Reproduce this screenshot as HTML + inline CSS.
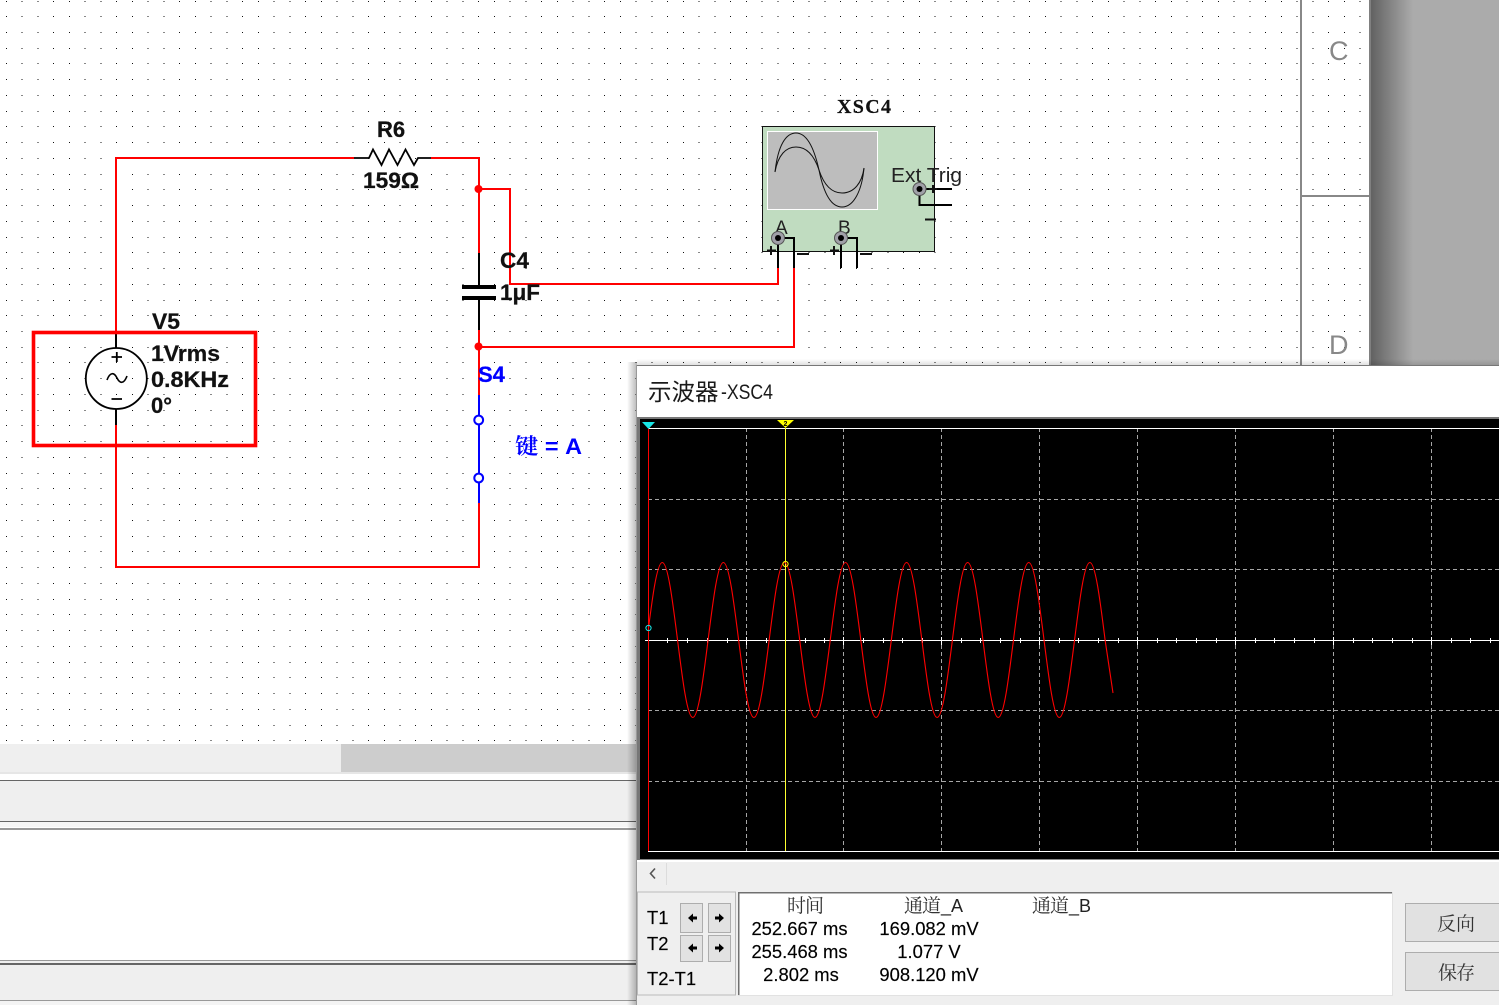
<!DOCTYPE html>
<html>
<head>
<meta charset="utf-8">
<style>
html,body{margin:0;padding:0;background:#fff;width:1499px;height:1005px;overflow:hidden}
svg{display:block;position:absolute;left:0;top:0}
.b{font-family:"Liberation Sans","Noto Sans CJK SC",sans-serif;font-weight:bold;font-size:22px;fill:#111;stroke:#111;stroke-width:.25}
.n{font-family:"Liberation Sans","Noto Sans CJK SC",sans-serif;font-size:18.4px;fill:#000;stroke:#000;stroke-width:.15}
.c{font-family:"Liberation Serif","Noto Serif CJK SC",serif;font-size:19px;fill:#333}
</style>
</head>
<body>
<svg width="1499" height="1005" viewBox="0 0 1499 1005" xmlns="http://www.w3.org/2000/svg">
<defs>
<linearGradient id="gr" x1="0" x2="1" y1="0" y2="0"><stop offset="0" stop-color="#626262"/><stop offset="1" stop-color="#ababab"/></linearGradient>
<linearGradient id="sl" x1="0" x2="1" y1="0" y2="0"><stop offset="0" stop-color="#000" stop-opacity="0"/><stop offset="1" stop-color="#000" stop-opacity=".28"/></linearGradient>
<linearGradient id="st" x1="0" x2="0" y1="0" y2="1"><stop offset="0" stop-color="#000" stop-opacity="0"/><stop offset="1" stop-color="#000" stop-opacity=".12"/></linearGradient>
<clipPath id="scope"><rect x="648" y="420" width="851" height="440"/></clipPath>
</defs>

<!-- canvas -->
<rect width="1499" height="1005" fill="#fff"/>
<path fill="none" stroke="#111" stroke-width="1" stroke-dasharray="1 14.74" shape-rendering="crispEdges" d="M6 1.5H1368M6 16.5H1368M6 32.5H1368M6 48.5H1368M6 63.5H1368M6 79.5H1368M6 95.5H1368M6 111.5H1368M6 126.5H1368M6 142.5H1368M6 158.5H1368M6 174.5H1368M6 189.5H1368M6 205.5H1368M6 221.5H1368M6 237.5H1368M6 252.5H1368M6 268.5H1368M6 284.5H1368M6 300.5H1368M6 315.5H1368M6 331.5H1368M6 347.5H1368M6 362.5H1368M6 378.5H636M6 394.5H636M6 410.5H636M6 425.5H636M6 441.5H636M6 457.5H636M6 473.5H636M6 488.5H636M6 504.5H636M6 520.5H636M6 536.5H636M6 551.5H636M6 567.5H636M6 583.5H636M6 599.5H636M6 614.5H636M6 630.5H636M6 646.5H636M6 662.5H636M6 677.5H636M6 693.5H636M6 709.5H636M6 725.5H636M6 740.5H636"/>

<!-- right margin -->
<rect x="1300" y="0" width="2" height="366" fill="#888"/>
<rect x="1301" y="195" width="70" height="2" fill="#888"/>
<text x="1329" y="60" font-family="Liberation Sans,sans-serif" font-size="27" fill="#888">C</text>
<text x="1329" y="354" font-family="Liberation Sans,sans-serif" font-size="27" fill="#888">D</text>
<rect x="1369" y="0" width="2" height="366" fill="#808080"/>
<rect x="1371" y="0" width="42" height="365" fill="url(#gr)"/>
<rect x="1413" y="0" width="86" height="365" fill="#ababab"/>

<!-- bottom panels -->
<rect x="0" y="744" width="637" height="28" fill="#efefef"/>
<rect x="341" y="744" width="296" height="28" fill="#cdcdcd"/>
<rect x="0" y="772" width="637" height="2" fill="#e6e6e6"/>
<rect x="0" y="780" width="637" height="1" fill="#666"/>
<rect x="0" y="781" width="637" height="40" fill="#efefef"/>
<rect x="0" y="821" width="637" height="1" fill="#666"/>
<rect x="0" y="822" width="637" height="5" fill="#f6f6f6"/>
<rect x="0" y="828" width="637" height="2" fill="#999"/>
<rect x="0" y="960" width="637" height="1" fill="#999"/>
<rect x="0" y="961" width="637" height="2" fill="#efefef"/>
<rect x="0" y="963" width="637" height="2" fill="#666"/>
<rect x="0" y="965" width="637" height="35" fill="#efefef"/>
<rect x="0" y="1000" width="637" height="1" fill="#999"/>
<rect x="0" y="1001" width="637" height="4" fill="#f4f4f4"/>

<!-- wires -->
<g fill="none" stroke="#f00" stroke-width="2">
<path d="M354 158H116V333"/>
<path d="M431 158H479V253"/>
<path d="M479 330V395"/>
<path d="M116 425V567H479V503"/>
<path d="M479 189H510V284H778V268"/>
<path d="M479 347H794V268"/>
</g>
<circle cx="478.5" cy="189" r="4" fill="#f00"/>
<circle cx="478.5" cy="346.5" r="4" fill="#f00"/>

<!-- resistor -->
<path d="M354 158H369L373 149.5L381.5 165L389 149.5L397.5 165L405.5 149.5L414 165L418 158H431" fill="none" stroke="#000" stroke-width="1.8"/>
<text class="b" x="377" y="137">R6</text>
<text class="b" x="363" y="188" textLength="56" lengthAdjust="spacingAndGlyphs">159Ω</text>

<!-- capacitor -->
<path d="M479 253V287M479 298V330" stroke="#000" stroke-width="2" fill="none"/>
<rect x="462" y="285" width="34" height="4" fill="#000"/>
<rect x="462" y="296" width="34" height="4" fill="#000"/>
<text class="b" x="500" y="268" textLength="29" lengthAdjust="spacingAndGlyphs">C4</text>
<text class="b" x="500" y="300" textLength="40" lengthAdjust="spacingAndGlyphs">1μF</text>

<!-- source -->
<path d="M116 333V348M116 409V425" stroke="#000" stroke-width="2" fill="none"/>
<circle cx="116.3" cy="378.5" r="30.5" fill="none" stroke="#000" stroke-width="1.8"/>
<path d="M111.5 357H122M116.8 352V362M111.5 399H122" stroke="#000" stroke-width="1.8" fill="none"/>
<path d="M107 380C110 372 114 372 117 378C120 384 124 384 127 376" stroke="#000" stroke-width="1.6" fill="none"/>
<text class="b" x="152" y="329" textLength="28" lengthAdjust="spacingAndGlyphs">V5</text>
<text class="b" x="151" y="361" textLength="69" lengthAdjust="spacingAndGlyphs">1Vrms</text>
<text class="b" x="151" y="387" textLength="78" lengthAdjust="spacingAndGlyphs">0.8KHz</text>
<text class="b" x="151" y="413">0°</text>
<rect x="33.5" y="332.5" width="222" height="113" fill="none" stroke="#f00" stroke-width="3.6"/>

<!-- switch -->
<path d="M479 395V503" stroke="#00f" stroke-width="2" fill="none"/>
<circle cx="478.7" cy="420" r="4.4" fill="#fff" stroke="#00f" stroke-width="2"/>
<circle cx="478.7" cy="478" r="4.4" fill="#fff" stroke="#00f" stroke-width="2"/>
<text class="b" x="478" y="382" style="fill:#00f;stroke:#00f">S4</text>
<text x="515" y="454" font-family="'Liberation Sans','Noto Serif CJK SC',sans-serif" font-weight="bold" font-size="22" fill="#00f" textLength="67" lengthAdjust="spacingAndGlyphs">键 = A</text>

<!-- oscilloscope symbol -->
<rect x="762.5" y="126.5" width="172" height="125" fill="#c0dcc0" stroke="#111" stroke-width="1"/>
<rect x="767.5" y="131.5" width="110" height="78" fill="#bdbdbd" stroke="#fff" stroke-width="1"/>
<path d="M775 172C778 145 786 133 796 133C808 133 815 152 819 170C823 190 830 207 842 207C854 207 862 190 864 168" fill="none" stroke="#111" stroke-width="1"/>
<path d="M775 172C778 155 786 147 796 147C808 147 815 158 819 170C823 182 830 193 842 193C854 193 862 183 864 168" fill="none" stroke="#111" stroke-width="1"/>
<text x="837" y="113" font-family="'Liberation Serif',serif" font-weight="bold" font-size="20" fill="#111" stroke="#111" stroke-width=".2" textLength="54" lengthAdjust="spacing">XSC4</text>
<text x="891" y="182" font-family="Liberation Sans,sans-serif" font-size="20" fill="#222" textLength="71" lengthAdjust="spacingAndGlyphs">Ext Trig</text>
<text x="775" y="234" font-family="Liberation Sans,sans-serif" font-size="19" fill="#222">A</text>
<text x="838" y="234" font-family="Liberation Sans,sans-serif" font-size="19" fill="#222">B</text>
<g fill="none" stroke="#000" stroke-width="2">
<path d="M778 238H794V268M778 238V268"/>
<path d="M841 238H857V268M841 238V268"/>
<path d="M919.5 189H952M919.5 189V205H952"/>
</g>
<g fill="none" stroke="#111" stroke-width="2">
<path d="M767 250.5H776M771 246V255M797 254H809"/>
<path d="M830 250.5H839M834 246V255M860 254H872"/>
<path d="M929 189H937M933 185V193M925 219.5H936"/>
</g>
<g>
<circle cx="778" cy="238" r="6.5" fill="#a0a0a8" stroke="#555"/><circle cx="778" cy="238" r="3" fill="#000"/>
<circle cx="841" cy="238" r="6.5" fill="#a0a0a8" stroke="#555"/><circle cx="841" cy="238" r="3" fill="#000"/>
<circle cx="919.5" cy="189" r="6.5" fill="#a0a0a8" stroke="#555"/><circle cx="919.5" cy="189" r="3" fill="#000"/>
</g>

<!-- scope window shadow -->
<rect x="627" y="362" width="10" height="643" fill="url(#sl)"/>
<rect x="637" y="359" width="862" height="6" fill="url(#st)"/>

<!-- scope window -->
<rect x="637" y="365" width="862" height="640" fill="#efefef"/>
<rect x="637" y="365" width="862" height="1" fill="#777"/>
<rect x="637" y="366" width="862" height="51" fill="#fff"/>
<rect x="636" y="365" width="1" height="640" fill="#999"/>
<text x="648" y="400" font-family="'Noto Sans CJK SC',sans-serif" font-size="23.5" fill="#1a1a1a">示波器</text>
<text x="721" y="399" font-family="Liberation Sans,sans-serif" font-size="21.5" fill="#1a1a1a" textLength="52" lengthAdjust="spacingAndGlyphs">-XSC4</text>

<rect x="637" y="417" width="862" height="2" fill="#777"/>
<rect x="637" y="419" width="3" height="442" fill="#777"/>
<rect x="640" y="419" width="859" height="440" fill="#000"/>
<rect x="640" y="859" width="859" height="1" fill="#888"/>
<rect x="637" y="860" width="862" height="2" fill="#fff"/>

<!-- grid -->
<g shape-rendering="crispEdges" fill="none" stroke="#a6a6a6" stroke-width="1" stroke-dasharray="4 3">
<path d="M648 499.5H1499M648 569.5H1499M648 710.5H1499M648 781.5H1499"/>
<path d="M746.5 428V851M843.5 428V851M941.5 428V851M1039.5 428V851M1137.5 428V851M1235.5 428V851M1333.5 428V851M1431.5 428V851"/>
</g>
<g shape-rendering="crispEdges" fill="none" stroke="#fff" stroke-width="1">
<path d="M648 428.5H1499M648 851.5H1499M645 640.5H1499"/>
<path d="M667.5 638V643M687.5 638V643M707.5 638V643M727.5 638V643M746.5 637V645M766.5 638V643M785.5 638V643M805.5 638V643M824.5 638V643M843.5 637V645M863.5 638V643M883.5 638V643M902.5 638V643M922.5 638V643M941.5 637V645M961.5 638V643M980.5 638V643M1000.5 638V643M1020.5 638V643M1039.5 637V645M1059.5 638V643M1078.5 638V643M1098.5 638V643M1118.5 638V643M1137.5 637V645M1157.5 638V643M1176.5 638V643M1196.5 638V643M1216.5 638V643M1235.5 637V645M1255.5 638V643M1274.5 638V643M1294.5 638V643M1314.5 638V643M1333.5 637V645M1353.5 638V643M1372.5 638V643M1392.5 638V643M1412.5 638V643M1431.5 637V645M1451.5 638V643M1470.5 638V643M1490.5 638V643"/>
</g>

<!-- cursors -->
<rect x="648" y="428" width="1" height="423" fill="#f00"/>
<rect x="785" y="428" width="1" height="423" fill="#ffff30"/>
<path d="M642 422H655L648.5 429Z" fill="#19e6e6"/>
<path d="M777 420H794L785.5 428Z" fill="#ffff00"/>
<text x="783.5" y="426" font-family="Liberation Sans,sans-serif" font-weight="bold" font-size="7" fill="#000">2</text>

<!-- trace -->
<path clip-path="url(#scope)" fill="none" stroke="#f00" stroke-width="1.1" d="M647 640
c4.98-39.7 9.75-77.5 15.27-77.5c5.52 0 10.29 37.8 15.27 77.5c4.98 39.7 9.75 77.5 15.27 77.5c5.52 0 10.29-37.8 15.27-77.5
c4.98-39.7 9.75-77.5 15.27-77.5c5.52 0 10.29 37.8 15.27 77.5c4.98 39.7 9.75 77.5 15.27 77.5c5.52 0 10.29-37.8 15.27-77.5
c4.98-39.7 9.75-77.5 15.27-77.5c5.52 0 10.29 37.8 15.27 77.5c4.98 39.7 9.75 77.5 15.27 77.5c5.52 0 10.29-37.8 15.27-77.5
c4.98-39.7 9.75-77.5 15.27-77.5c5.52 0 10.29 37.8 15.27 77.5c4.98 39.7 9.75 77.5 15.27 77.5c5.52 0 10.29-37.8 15.27-77.5
c4.98-39.7 9.75-77.5 15.27-77.5c5.52 0 10.29 37.8 15.27 77.5c4.98 39.7 9.75 77.5 15.27 77.5c5.52 0 10.29-37.8 15.27-77.5
c4.98-39.7 9.75-77.5 15.27-77.5c5.52 0 10.29 37.8 15.27 77.5c4.98 39.7 9.75 77.5 15.27 77.5c5.52 0 10.29-37.8 15.27-77.5
c4.98-39.7 9.75-77.5 15.27-77.5c5.52 0 10.29 37.8 15.27 77.5c4.98 39.7 9.75 77.5 15.27 77.5c5.52 0 10.29-37.8 15.27-77.5
c4.98-39.7 9.75-77.5 15.27-77.5c5.52 0 10.29 37.8 15.27 77.5c3 20 5.5 38 7.9 53"/>
<circle cx="648.5" cy="628" r="2.6" fill="none" stroke="#19e6e6" stroke-width="1"/>
<circle cx="785.5" cy="564" r="2.6" fill="none" stroke="#ffff00" stroke-width="1"/>

<!-- scroll row -->
<path d="M655 868.5L650.5 873.5L655 878.5" fill="none" stroke="#555" stroke-width="1.6"/>
<rect x="666" y="863" width="1" height="22" fill="#dcdcdc"/>

<!-- T panel -->
<rect x="637.5" y="892" width="98" height="103" fill="#efefef" stroke="#bbb"/>
<text class="n" x="647" y="924">T1</text>
<text class="n" x="647" y="950">T2</text>
<text class="n" x="647" y="985">T2-T1</text>
<g fill="#e2e2e2" stroke="#adadad">
<rect x="680.5" y="903.5" width="22" height="29"/>
<rect x="708.5" y="903.5" width="22" height="29"/>
<rect x="680.5" y="935.5" width="22" height="26"/>
<rect x="708.5" y="935.5" width="22" height="26"/>
</g>
<g fill="#000">
<path d="M688 918L693 913.5V916.5H697V919.5H693V922.5Z"/>
<path d="M724 918L719 913.5V916.5H715V919.5H719V922.5Z"/>
<path d="M688 948L693 943.5V946.5H697V949.5H693V952.5Z"/>
<path d="M724 948L719 943.5V946.5H715V949.5H719V952.5Z"/>
</g>

<!-- data box -->
<rect x="738" y="892" width="655" height="104" fill="#fff"/>
<rect x="738" y="892" width="655" height="1.5" fill="#707070"/>
<rect x="738" y="892" width="1.5" height="104" fill="#707070"/>
<rect x="1392" y="892" width="1" height="104" fill="#e2e2e2"/>
<rect x="738" y="995" width="655" height="1" fill="#e2e2e2"/>
<text class="c" x="787" y="912" textLength="37" lengthAdjust="spacing">时间</text>
<text class="c" x="904" y="912" textLength="37" lengthAdjust="spacing">通道</text>
<text x="941" y="912" font-family="Liberation Sans,sans-serif" font-size="18" fill="#222">_A</text>
<text class="c" x="1032" y="912" textLength="37" lengthAdjust="spacing">通道</text>
<text x="1069" y="912" font-family="Liberation Sans,sans-serif" font-size="18" fill="#222">_B</text>
<g text-anchor="middle">
<text class="n" x="799.5" y="935">252.667 ms</text>
<text class="n" x="799.5" y="958">255.468 ms</text>
<text class="n" x="801" y="981">2.802 ms</text>
<text class="n" x="929" y="935">169.082 mV</text>
<text class="n" x="929" y="958">1.077 V</text>
<text class="n" x="929" y="981">908.120 mV</text>
</g>

<!-- buttons -->
<g fill="#e1e1e1" stroke="#adadad">
<rect x="1405.5" y="903.5" width="110" height="38"/>
<rect x="1405.5" y="952.5" width="110" height="38"/>
</g>
<text class="c" x="1437" y="930" textLength="38" lengthAdjust="spacing">反向</text>
<text class="c" x="1438" y="979" textLength="37" lengthAdjust="spacing">保存</text>
</svg>
</body>
</html>
